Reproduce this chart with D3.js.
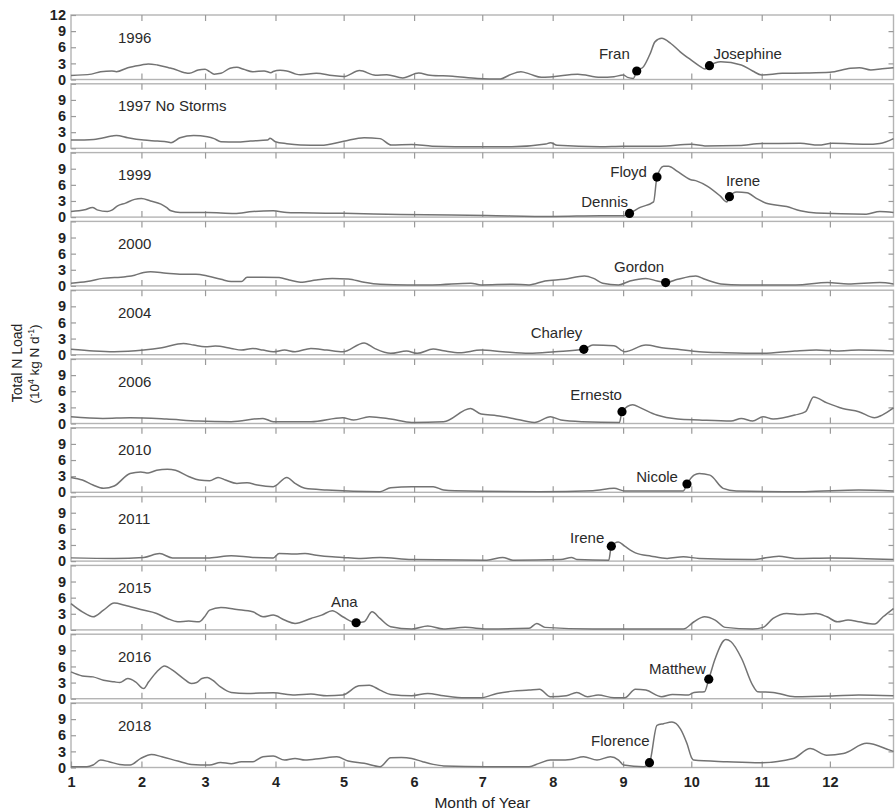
<!DOCTYPE html>
<html><head><meta charset="utf-8">
<script src="https://cdn.jsdelivr.net/npm/d3@7"></script>
<style>
body{margin:0;background:#fff}
text{font-family:"Liberation Sans",Arial,Helvetica,sans-serif}
</style>
</head><body>
<svg id="c" width="895" height="811"></svg>
<script>
// ---------------- DATA ----------------
const panelLabels = ["1996","1997 No Storms","1999","2000","2004","2006","2010","2011","2015","2016","2018"];
const monthStarts = [1,32,60,91,121,152,182,213,244,274,305,335];   // day of year of each month start
const monthLabels = ["1","2","3","4","5","6","7","8","9","10","11","12"];
const yTickValues = [0,3,6,9,12];

// [day of year, load (10^4 kg N/d)]
const s1996 = [[1,0.75],[10,1.0],[14,1.45],[19,1.6],[21,1.45],[26,2.2],[32,2.7],[35,2.9],[39,2.7],[44,2.2],[46,2.0],[51,1.27],[53,1.15],[57,1.77],[60,1.9],[62,1.45],[64,1.0],[67,1.15],[71,2.1],[74,2.27],[77,1.9],[81,1.45],[86,1.6],[89,1.27],[90,1.5],[93,1.7],[96,1.6],[100,1.0],[102,0.9],[109,1.17],[116,0.74],[121,0.55],[128,1.66],[135,0.8],[140,0.9],[147,0.3],[154,1.2],[159,0.8],[169,0.6],[180,0.2],[190,0.1],[194,0.84],[199,1.45],[203,1.0],[208,0.4],[213,0.52],[224,0.97],[234,0.4],[240,0.52],[244,0.84],[246,0.4],[248.5,0.2],[250,1.58],[253,2.4],[256,4.9],[258,7.0],[261,7.66],[265,6.7],[269,5.2],[274,3.6],[278,2.4],[280,1.95],[282,2.57],[287,3.3],[296,2.7],[301,1.58],[305,0.84],[314,1.15],[324,1.2],[335,1.34],[344,2.08],[348,2.2],[353,1.77],[358,2.0],[363,2.2]];
const s1997 = [[1,1.53],[11,1.66],[19,2.27],[21,2.4],[26,1.97],[33,1.53],[39,1.35],[43.5,1.17],[45,1.05],[49,1.97],[55,2.4],[61,2.15],[64,1.8],[67,1.23],[74,1.17],[80,1.35],[87.5,1.53],[88.6,1.85],[91,1.23],[96,0.86],[102,0.62],[111,0.55],[121,1.3],[130,1.97],[137,1.8],[142,0.6],[151,0.7],[160,0.4],[180,0.3],[195,0.3],[210,0.8],[212,1.05],[215,0.55],[234,0.3],[244,0.4],[260,0.4],[274,0.74],[280,0.45],[295,0.5],[305,0.9],[322,0.92],[330,0.6],[336,0.92],[351,0.74],[357,0.9],[363,1.8]];
const s1999 = [[1,1.05],[7,1.35],[10.5,1.8],[12.5,1.35],[17,1.05],[19,1.3],[21.5,2.1],[25,2.6],[29,3.3],[32,3.45],[36,3.0],[40.6,2.4],[43,1.8],[45,1.17],[49,0.86],[61,0.86],[73,0.68],[81,1.05],[90,1.17],[96,0.86],[102,0.8],[121,0.7],[146,0.5],[184,0.3],[213,0.12],[234,0.25],[244,0.25],[246.8,0.68],[251.5,1.8],[257.4,2.83],[258.9,7.44],[261.8,9.47],[264,9.47],[267.7,8.55],[273.5,7.0],[276.5,6.7],[281,5.78],[286.7,3.94],[289.7,2.83],[290.8,3.8],[294,4.67],[298.5,4.55],[302.8,3.45],[307,2.58],[316,1.97],[322,1.17],[329,0.74],[351,0.55],[357,1.05],[363,0.86]];
const s2000 = [[1,0.5],[8,0.8],[15,1.4],[25,1.72],[29,2.0],[33,2.5],[36,2.64],[43,2.34],[50,2.15],[56,2.15],[61,1.85],[67,1.23],[71.5,0.8],[76,0.8],[78.5,1.6],[85.5,1.6],[92.6,1.54],[97,1.1],[102,0.68],[109,1.1],[116,1.4],[123,1.3],[130,0.68],[137,0.3],[149,0.18],[160,0.18],[177,0.5],[181.5,0.18],[195.5,0.3],[202.6,0.18],[209.6,0.92],[218,1.23],[227,1.85],[231,1.4],[235,0.5],[242,0.18],[247,0.92],[254,1.4],[259,0.92],[262.7,0.62],[268,1.23],[276,1.85],[280,1.23],[287,0.37],[296,0.18],[320,0.18],[334,0.62],[343,0.37],[357,0.62],[363,0.37]];
const s2004 = [[1,1.0],[11,0.68],[20,0.55],[33,0.86],[41,1.3],[50.5,2.1],[55,1.8],[60,1.48],[64.5,1.6],[71.5,1.17],[76,0.86],[81,1.17],[85.5,0.86],[90,0.55],[95,0.86],[99.6,0.55],[106.6,1.17],[113.6,0.86],[120.6,0.55],[130,2.2],[134.6,1.17],[141.7,0.25],[148.7,0.68],[153.4,0.25],[160.4,1.05],[165,0.74],[172,0.37],[181.5,0.86],[191,0.55],[202.6,0.25],[214,0.55],[226.7,1.0],[230.7,1.8],[240,1.66],[244.7,0.55],[254,1.8],[261,1.3],[268,1.0],[277.5,0.55],[289,0.37],[305.6,0.25],[319.6,0.68],[329,0.86],[338,0.68],[347.7,0.86],[363,0.68]];
const s2006 = [[1,1.26],[15,0.95],[27,1.08],[43,0.83],[57,0.46],[71.5,0.34],[85.5,0.95],[90,0.34],[106.6,0.34],[120.6,1.08],[125.4,0.65],[132.3,1.26],[141.7,0.83],[151,0.2],[165,0.34],[176.8,2.8],[181.5,1.75],[188.5,1.45],[195.5,0.95],[205,0.2],[212,1.26],[216.6,0.65],[226,0.34],[242.4,0.2],[243.5,2.2],[248.2,3.5],[251.7,2.9],[258.8,1.57],[268,0.83],[277.5,0.65],[291.5,0.46],[296,0.95],[301,0.46],[305.6,1.26],[310,0.83],[319.6,1.57],[324.3,2.2],[327.8,4.95],[333.7,3.84],[340.6,2.8],[347.7,2.2],[354.7,1.08],[358,1.57],[363,2.9]];
const s2010 = [[1,2.77],[6,2.28],[10.7,1.35],[15.3,0.74],[20,1.17],[27,3.5],[31.7,3.8],[35,3.6],[38.7,4.1],[43.4,4.3],[47,4.1],[53,2.9],[57.4,2.28],[62,2.15],[65.7,2.77],[69,2.28],[74,1.66],[78.5,1.78],[83,1.35],[90,1.05],[96,2.77],[99.6,1.66],[104,0.74],[113.6,0.43],[137,0.12],[141.7,0.86],[151,1.05],[160.4,1.05],[165,0.43],[170,0.3],[207,0.12],[230.7,0.3],[240,0.74],[244.7,0.25],[270.5,0.25],[272.1,1.54],[275.2,3.2],[277.5,3.5],[282.2,3.2],[288,0.74],[293.8,0.25],[324,0.12],[347.7,0.43],[363,0.25]];
const s2011 = [[1,0.6],[20,0.5],[33,0.68],[40,1.4],[45.7,0.6],[62,0.6],[71.5,1.0],[81,0.68],[90,0.6],[92.6,1.4],[99.6,1.3],[104,1.4],[109,1.1],[116,0.8],[120.6,0.68],[127.7,0.5],[137,0.68],[151,0.3],[184,0.18],[191,0.68],[195.5,0.18],[216.6,0.3],[221.3,0.68],[223.6,0.3],[237.7,0.18],[238.8,2.77],[241.9,3.57],[244.7,2.77],[249.4,1.54],[256.4,0.92],[263.4,0.5],[270.5,0.8],[277.5,0.5],[301,0.3],[312.6,0.92],[319.6,0.5],[336,0.6],[363,0.3]];
const s2015 = [[1,4.9],[6,3.36],[10.7,2.44],[15.3,3.67],[20,5.0],[24.7,4.6],[31.7,3.8],[38.7,3.06],[43.4,2.13],[48,1.52],[52.8,1.64],[57.4,1.52],[59.8,2.44],[62,3.67],[67,4.16],[74,3.8],[81,3.36],[85.5,2.44],[90,2.75],[95,1.83],[99.6,1.21],[106.6,2.13],[111.3,2.75],[116,3.55],[120.6,2.44],[126.5,1.33],[130,1.52],[133.5,3.36],[137,2.13],[141.7,0.6],[151,0.17],[158,0.72],[165,0.17],[174.5,0.47],[184,0.17],[202.6,0.3],[206,1.21],[209.6,0.47],[230.7,0.17],[270.5,0.17],[275.2,1.52],[279.8,2.44],[284.5,1.83],[289,0.47],[301,0.17],[305.6,0.47],[310,2.13],[316,3.06],[322,2.87],[329,3.06],[333.7,2.44],[338.3,1.52],[343,1.83],[347.7,1.52],[354.7,1.08],[358.4,2.44],[363,3.98]];
const s2016 = [[1,4.98],[6,4.24],[10.7,4.06],[15.3,3.44],[20,3.14],[22.4,3.0],[26,3.75],[29.4,3.14],[33,1.9],[35.2,3.14],[38.7,4.98],[42.2,6.1],[45.7,5.3],[50.5,3.75],[54,2.83],[56.3,3.0],[58.6,3.75],[61,3.94],[63.3,3.44],[66.8,2.2],[71.5,1.17],[78.5,0.98],[90,1.1],[99.6,0.68],[106.6,0.86],[113.6,0.55],[120.6,0.68],[127.7,2.4],[132.3,2.52],[137,1.6],[141.7,0.8],[151,0.55],[158,0.98],[165,0.55],[174.5,0.18],[181.5,0.18],[188.5,0.98],[195.5,1.41],[202.6,1.6],[207.2,1.78],[212,0.37],[219,0.55],[223.6,1.17],[228.3,0.37],[233,0.68],[240,0.18],[244.7,0.18],[249.4,1.78],[254,1.6],[261,0.37],[265.7,0.8],[272.8,0.68],[275.2,1.17],[279.8,1.29],[281.7,3.63],[284.5,7.44],[289.2,11.0],[291.5,10.6],[296.2,7.44],[301,2.52],[303.2,1.29],[310,1.17],[319.6,0.37],[336,0.5],[347.7,0.68],[363,0.55]];
const s2018 = [[1,0.15],[8,0.15],[10.7,0.46],[14,1.38],[17.7,1.08],[22.4,0.58],[27,0.46],[31.7,1.69],[36.4,2.43],[41,2.0],[48,1.2],[54,0.58],[62,0.46],[66.8,0.95],[71.5,0.7],[76,1.08],[81,1.08],[85.5,2.0],[90,2.12],[95,1.38],[99.6,1.69],[104,1.38],[111,1.69],[118,2.0],[123,1.2],[130,0.77],[137,0.15],[141.7,1.81],[146.4,1.88],[151,1.69],[155.8,1.08],[160.4,0.58],[165,0.3],[184,0.15],[202.6,0.15],[207,0.77],[212,1.38],[216,1.38],[221,1.5],[226.6,2.0],[232.5,1.38],[238.4,2.0],[242,1.38],[244.2,0.46],[253,0.15],[255.6,0.89],[258.9,7.84],[261.8,8.15],[265.5,8.46],[269.2,7.2],[272.1,4.46],[274.3,1.69],[275,1.38],[289.7,1.08],[304.3,0.89],[318.9,1.69],[326.3,3.54],[333.6,2.3],[340.9,2.6],[351.2,4.5],[361.4,3.23],[363,3.0]];

const series = [s1996,s1997,s1999,s2000,s2004,s2006,s2010,s2011,s2015,s2016,s2018];

// storms: panel index, name, day of year, load
const stormPanel = [0,0,2,2,2,3,4,5,6,7,8,9,10];
const stormNames = ["Fran","Josephine","Dennis","Floyd","Irene","Gordon","Charley","Ernesto","Nicole","Irene","Ana","Matthew","Florence"];
const stormDays  = [250,282,246.8,258.9,290.8,262.7,226.7,243.5,272.1,238.8,126.5,281.7,255.6];
const stormLoads = [1.58,2.57,0.68,7.44,3.8,0.62,1.0,2.2,1.54,2.77,1.33,3.63,0.89];

// ---------------- LAYOUT ----------------
const labelPlacement = [ // anchor, dx, dy relative to the marker
  ["end",-7,-12.5],["start",4,-7],["end",-1.5,-6],["end",-10,0],["start",-3.5,-10.5],
  ["end",-1.5,-10.5],["end",-1.5,-11],["end",0,-12],["end",-9,-2.5],["end",-7,-3.5],
  ["end",1.5,-16],["end",-3,-5.5],["end",0,-16.5]
];
const left = 71, right = 893.5, top0 = 15, step = 68.8, ph = 64.5;
const frameColor = "#b4b4b4", tickColor = "#9a9a9a", lineColor = "#737373";

const svg = d3.select("#c");
const x = d3.scaleLinear().domain([1,363]).range([left,right]);
const line = d3.line().x(d=>x(d[0])).curve(d3.curveMonotoneX);

series.forEach((data,i)=>{
  const t = top0 + i*step;
  const y = d3.scaleLinear().domain([0,12]).range([t+ph, t]);
  const g = svg.append("g");

  g.append("rect").attr("x",left).attr("y",t).attr("width",right-left).attr("height",ph)
    .attr("fill","none").attr("stroke",frameColor).attr("stroke-width",1.4);

  const styleAxis = sel => {
    sel.select(".domain").remove();
    sel.selectAll(".tick line").attr("stroke",tickColor).attr("stroke-width",1.2);
    sel.selectAll("text").attr("fill","#222").style("font-size","14.5px").style("font-weight","bold");
  };

  g.append("g").attr("transform",`translate(${left},0)`)
    .call(d3.axisLeft(y).tickValues(yTickValues).tickSize(-5).tickPadding(5)
      .tickFormat(v => (v===12 && i>0) ? "" : String(v)))
    .call(styleAxis);
  g.append("g").attr("transform",`translate(${right},0)`)
    .call(d3.axisRight(y).tickValues(yTickValues.slice(1,4)).tickSize(-5).tickFormat(""))
    .call(styleAxis);
  g.append("g").attr("transform",`translate(0,${t})`)
    .call(d3.axisTop(x).tickValues(monthStarts.slice(1)).tickSize(-6).tickFormat(""))
    .call(styleAxis);
  const last = i === series.length-1;
  g.append("g").attr("transform",`translate(0,${t+ph})`)
    .call(d3.axisBottom(x).tickValues(last ? monthStarts : monthStarts.slice(1)).tickSize(-6).tickPadding(9)
      .tickFormat(last ? ((d,k)=>monthLabels[k]) : ""))
    .call(styleAxis);

  g.append("path").datum(data).attr("d", line.y(d=>y(d[1])))
    .attr("fill","none").attr("stroke",lineColor).attr("stroke-width",1.5);

  g.append("text").attr("x",118).attr("y",t+27.5).text(panelLabels[i])
    .attr("fill","#2a2a2a").style("font-size","15px");

  stormPanel.forEach((p,k)=>{
    if(p!==i) return;
    const cx = x(stormDays[k]), cy = y(stormLoads[k]);
    g.append("circle").attr("cx",cx).attr("cy",cy).attr("r",4.6).attr("fill","#000");
    const [anchor,dx,dy] = labelPlacement[k];
    g.append("text").attr("x",cx+dx).attr("y",cy+dy).attr("text-anchor",anchor)
      .text(stormNames[k]).attr("fill","#2a2a2a").style("font-size","15px");
  });
});

// axis titles
svg.append("text").attr("x",(left+right)/2).attr("y",807.5).attr("text-anchor","middle")
  .text("Month of Year").attr("fill","#222").style("font-size","15.5px");

svg.append("g").attr("transform","translate(21.5,363) rotate(-90)")
  .append("text").attr("text-anchor","middle").text("Total N Load")
  .attr("fill","#222").style("font-size","14px");
const yt2 = svg.append("g").attr("transform","translate(38.5,364) rotate(-90)")
  .append("text").attr("text-anchor","middle").attr("fill","#222")
  .style("font-size","13.5px");
yt2.append("tspan").text("(10");
yt2.append("tspan").attr("baseline-shift","super").style("font-size","8.5px").text("4");
yt2.append("tspan").text(" kg N d");
yt2.append("tspan").attr("baseline-shift","super").style("font-size","8.5px").text("-1");
yt2.append("tspan").text(")");
</script>
</body></html>
